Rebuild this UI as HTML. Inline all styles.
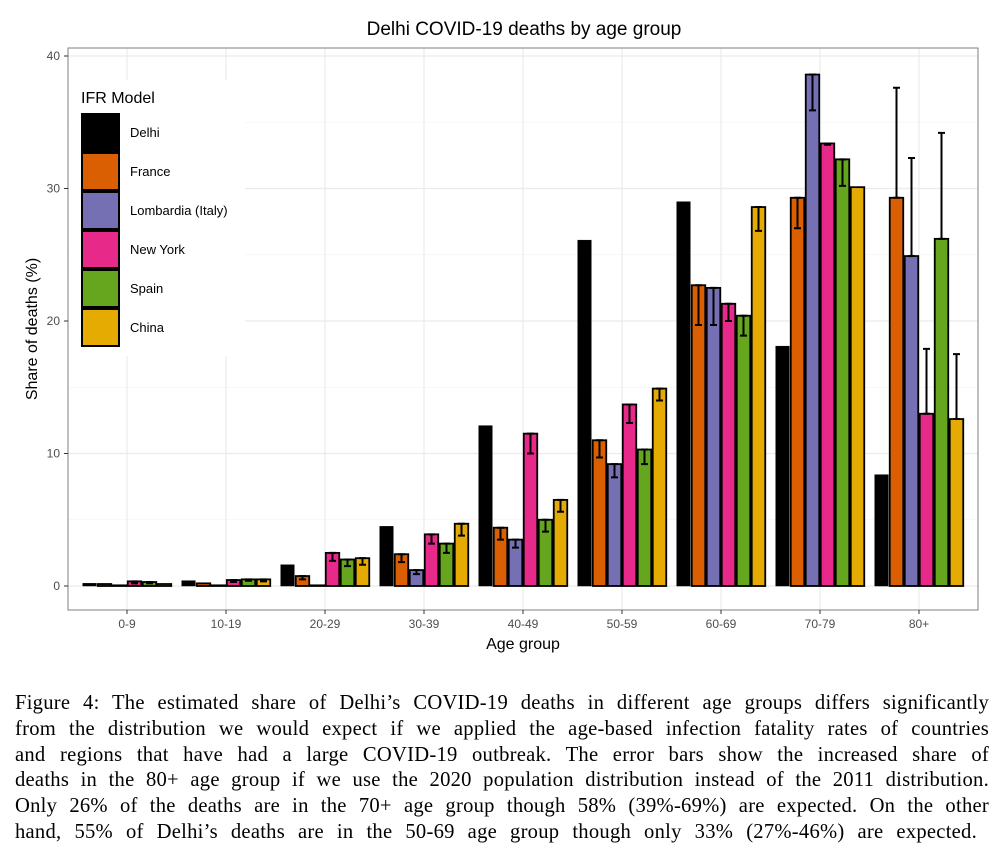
<!DOCTYPE html>
<html><head><meta charset="utf-8"><style>
body{margin:0;background:#fff;width:995px;height:864px;overflow:hidden;font-family:"Liberation Sans",sans-serif}
#cap{position:absolute;left:15px;top:691px;width:974px;font-family:"Liberation Serif",serif;font-size:20.6px;line-height:25.8px;color:#000;letter-spacing:0.25px}
#cap div{text-align:justify;text-align-last:justify;white-space:nowrap}
#cap div.last{width:962px}
</style></head><body>
<svg id="chart" width="995" height="680" style="position:absolute;left:0;top:0" font-family="Liberation Sans, sans-serif">
<text x="524" y="35" font-size="19" text-anchor="middle">Delhi COVID-19 deaths by age group</text>
<g id="grid"></g><g id="bars"></g>
<rect x="68" y="48" width="910" height="562" fill="none" stroke="#7f7f7f" stroke-width="1"/>
<g id="axes"></g>
<text x="523" y="649" font-size="16" text-anchor="middle">Age group</text>
<text transform="translate(37,329) rotate(-90)" font-size="16" text-anchor="middle">Share of deaths (%)</text>
<g id="legend"></g>
</svg>
<div id="cap">
<div>Figure 4: The estimated share of Delhi’s COVID-19 deaths in different age groups differs significantly</div>
<div>from the distribution we would expect if we applied the age-based infection fatality rates of countries</div>
<div>and regions that have had a large COVID-19 outbreak. The error bars show the increased share of</div>
<div>deaths in the 80+ age group if we use the 2020 population distribution instead of the 2011 distribution.</div>
<div>Only 26% of the deaths are in the 70+ age group though 58% (39%-69%) are expected. On the other</div>
<div class="last">hand, 55% of Delhi’s deaths are in the 50-69 age group though only 33% (27%-46%) are expected.</div>
</div>
<script>
const categories=["0-9","10-19","20-29","30-39","40-49","50-59","60-69","70-79","80+"];
const series=["Delhi","France","Lombardia (Italy)","New York","Spain","China"];
const colors=["#000000","#d95f02","#7570b3","#e7298a","#66a61e","#e6ab02"];
const delhi=[0.2,0.4,1.6,4.5,12.1,26.1,29.0,18.1,8.4];
const france=[0.15,0.2,0.75,2.4,4.4,11.0,22.7,29.3,29.3];
const lombardia=[0.05,0.05,0.05,1.2,3.5,9.2,22.5,38.6,24.9];
const newyork=[0.35,0.45,2.5,3.9,11.5,13.7,21.3,33.4,13.0];
const spain=[0.3,0.5,2.0,3.2,5.0,10.3,20.4,32.2,26.2];
const china=[0.15,0.5,2.1,4.7,6.5,14.9,28.6,30.1,12.6];
const franceLow=[0.15,0.2,0.5,1.8,3.5,9.7,19.7,27.0,29.3];
const franceHigh=[0.15,0.2,0.75,2.4,4.4,11.0,22.7,29.3,37.6];
const lombLow=[0.05,0.05,0.05,0.9,2.9,8.2,19.7,35.9,24.9];
const lombHigh=[0.05,0.05,0.05,1.2,3.5,9.2,22.5,38.6,32.3];
const nyLow=[0.2,0.3,1.9,3.2,10.0,12.3,20.0,33.3,13.0];
const nyHigh=[0.35,0.45,2.5,3.9,11.5,13.7,21.3,33.4,17.9];
const spainLow=[0.2,0.4,1.5,2.5,4.1,9.2,18.9,30.2,26.2];
const spainHigh=[0.3,0.5,2.0,3.2,5.0,10.3,20.4,32.2,34.2];
const chinaLow=[0.1,0.35,1.6,3.8,5.6,14.0,26.8,30.1,12.6];
const chinaHigh=[0.15,0.5,2.1,4.7,6.5,14.9,28.6,30.1,17.5];
const yTicks=[0,10,20,30,40];

const values=[delhi,france,lombardia,newyork,spain,china];
const lows=[null,franceLow,lombLow,nyLow,spainLow,chinaLow];
const highs=[null,franceHigh,lombHigh,nyHigh,spainHigh,chinaHigh];
const NS="http://www.w3.org/2000/svg";
const y=v=>586-v*13.25;
const xc=i=>127+i*99;
const bw=15;
function mk(tag,attrs,parent){const e=document.createElementNS(NS,tag);for(const k in attrs)e.setAttribute(k,attrs[k]);parent.appendChild(e);return e;}
const grid=document.getElementById('grid'),bars=document.getElementById('bars'),axes=document.getElementById('axes'),legend=document.getElementById('legend');
for(let v=0;v<=40;v+=5){const l=mk('line',{x1:68,x2:978,y1:y(v),y2:y(v),stroke:v%10?'#f4f4f4':'#ebebeb','stroke-width':v%10?0.8:1.2},grid);

}
categories.forEach((c,i)=>{const l=mk('line',{x1:xc(i),x2:xc(i),y1:48,y2:610,stroke:'#ebebeb','stroke-width':1.2},grid);


const t=mk('text',{x:xc(i),y:628,'font-size':12,fill:'#4d4d4d','text-anchor':'middle'},axes);t.textContent=c;


const tk=mk('line',{x1:xc(i),x2:xc(i),y1:610,y2:614,stroke:'#333'},axes);

});
yTicks.forEach(v=>{const t=mk('text',{x:60,y:y(v)+4,'font-size':12,fill:'#4d4d4d','text-anchor':'end'},axes);t.textContent=v;


const tk=mk('line',{x1:64,x2:68,y1:y(v),y2:y(v),stroke:'#333'},axes);

});
categories.forEach((c,i)=>{
 values.forEach((arr,s)=>{
  const x0=xc(i)-45+s*bw;const v=arr[i];
  const r=mk('rect',{x:x0+0.75,y:y(v),width:bw-1.5,height:586-y(v),fill:colors[s],stroke:'#000','stroke-width':s?1.8:0.5},bars);
  
  
  if(lows[s]&&highs[s][i]-lows[s][i]>0.05){
   const cx=x0+bw/2,y1=y(lows[s][i]),y2=y(highs[s][i]);
   const g=mk('path',{d:`M${cx},${y1}V${y2}M${cx-3.5},${y1}H${cx+3.5}M${cx-3.5},${y2}H${cx+3.5}`,stroke:'#000','stroke-width':2,fill:'none'},bars);
   
   
  }
 });
});
const bg=mk('rect',{x:69,y:80,width:176,height:276,fill:'#fff'},legend);


const lt=mk('text',{x:81,y:103,'font-size':16},legend);lt.textContent='IFR Model';


series.forEach((s,k)=>{const yy=113+k*39;
 const r=mk('rect',{x:82,y:yy+1,width:37,height:37,fill:colors[k],stroke:'#000','stroke-width':2},legend);
 
 
 const t=mk('text',{x:130,y:yy+24,'font-size':13},legend);t.textContent=s;
 
 });
</script>
</body></html>
